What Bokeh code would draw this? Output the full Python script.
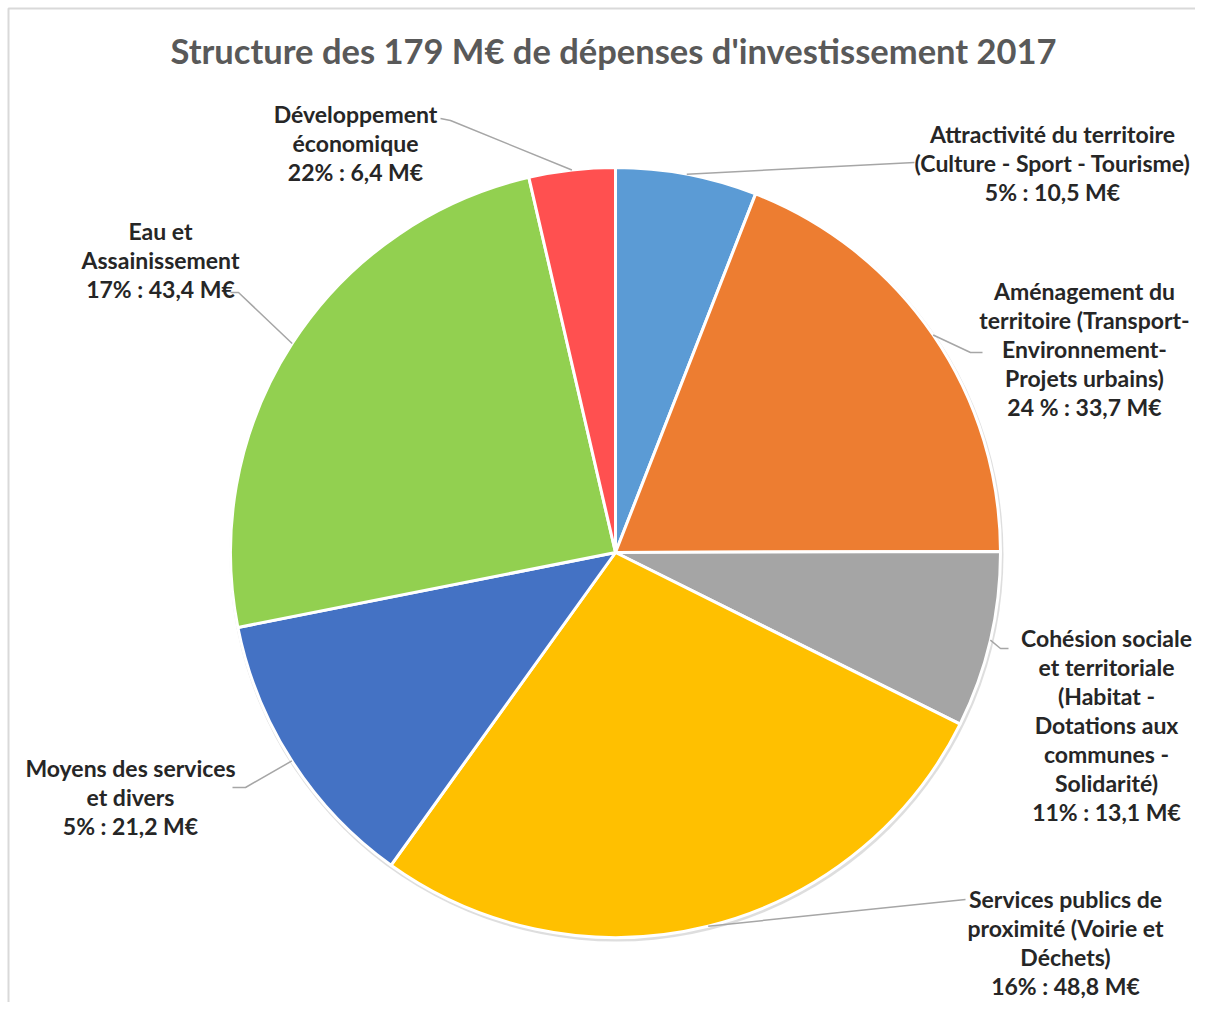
import numpy as np
from bokeh.plotting import figure
from bokeh.models import Range1d, ColumnDataSource
from bokeh.embed import file_html
from bokeh.resources import INLINE
from bokeh.core.properties import value

# ---------------- data ----------------
title = "Structure des 179 M€ de dépenses d'investissement 2017"
categories = [
    "Attractivité du territoire\n(Culture - Sport - Tourisme)",
    "Aménagement du\nterritoire (Transport-\nEnvironnement-\nProjets urbains)",
    "Cohésion sociale\net territoriale\n(Habitat -\nDotations aux\ncommunes -\nSolidarité)",
    "Services publics de\nproximité (Voirie et\nDéchets)",
    "Moyens des services\net divers",
    "Eau et\nAssainissement",
    "Développement\néconomique",
]
values = [10.5, 33.7, 13.1, 48.8, 21.2, 43.4, 6.4]
value_labels = [
    "5% : 10,5 M€",
    "24 % : 33,7 M€",
    "11% : 13,1 M€",
    "16% : 48,8 M€",
    "5% : 21,2 M€",
    "17% : 43,4 M€",
    "22% : 6,4 M€",
]
colors = ["#5B9BD5", "#ED7D31", "#A5A5A5", "#FFC000", "#4472C4", "#92D050", "#FF5050"]

# ---------------- layout (screen px) ----------------
W, H = 1195, 1002


def X(sx):
    return sx


def Y(sy):
    return H - sy


# label block: centre x, first-line y ; leader elbow and end
label_pos = [(1052, 133), (1084, 290), (1106, 637), (1065, 898), (130, 767), (160, 230), (355, 113)]
leader_pts = [
    [(914, 162)],
    [(970, 352), (982, 352)],
    [(1000, 648), (1008, 648)],
    [(965, 899)],
    [(245, 787), (232, 787)],
    [(238, 292), (230, 292)],
    [(450, 120), (440, 118)],
]
LINE_H = 29
FONT = "Lato"

p = figure(width=W, height=H, x_range=Range1d(0, W), y_range=Range1d(0, H),
           output_backend="svg", toolbar_location=None, min_border=0,
           x_axis_location=None, y_axis_location=None)
p.grid.visible = False
p.outline_line_color = None
p.background_fill_color = "white"
p.border_fill_color = "white"

# chart frame (top and left edges visible)
p.multi_line(xs=[[X(8), X(8), X(W)]], ys=[[Y(H), Y(8), Y(8)]], line_color="#D9D9D9", line_width=2)

cx, cy, R = X(615), Y(552), 385
frac = np.array(values) / np.sum(values)
cum = np.concatenate([[0.0], np.cumsum(frac)])
start = np.pi / 2 - cum[:-1] * 2 * np.pi
end = np.pi / 2 - cum[1:] * 2 * np.pi
mid = (start + end) / 2

# subtle shadow
p.circle(x=[cx + 1], y=[cy - 2], radius=R + 2, fill_color="#C8C8C8", fill_alpha=0.6, line_color=None)

src = ColumnDataSource(dict(start=start, end=end, color=colors))
p.wedge(x=cx, y=cy, radius=R, start_angle="start", end_angle="end", direction="clock",
        fill_color="color", line_color="white", line_width=3, source=src)

# leader lines
xs, ys = [], []
for i in range(len(values)):
    ax = cx + R * np.cos(mid[i])
    ay = cy + R * np.sin(mid[i])
    lx = [ax] + [X(q[0]) for q in leader_pts[i]]
    ly = [ay] + [Y(q[1]) for q in leader_pts[i]]
    xs.append(lx)
    ys.append(ly)
p.multi_line(xs=xs, ys=ys, line_color="#A6A6A6", line_width=1.5)

# labels
tx, ty, tt = [], [], []
for i in range(len(values)):
    lines = categories[i].split("\n") + [value_labels[i]]
    bx, by = label_pos[i]
    for j, ln in enumerate(lines):
        tx.append(X(bx))
        ty.append(Y(by + j * LINE_H))
        tt.append(ln)
p.text(x=tx, y=ty, text=tt, text_font=value(FONT), text_font_style="bold",
       text_font_size="23px", text_color="#262626", text_align="center", text_baseline="middle")

p.text(x=[X(613)], y=[Y(50)], text=[title], text_font=value(FONT), text_font_style="bold",
       text_font_size="34.5px", text_color="#595959", text_align="center", text_baseline="middle")

open("out.html", "w").write(file_html(p, INLINE))
